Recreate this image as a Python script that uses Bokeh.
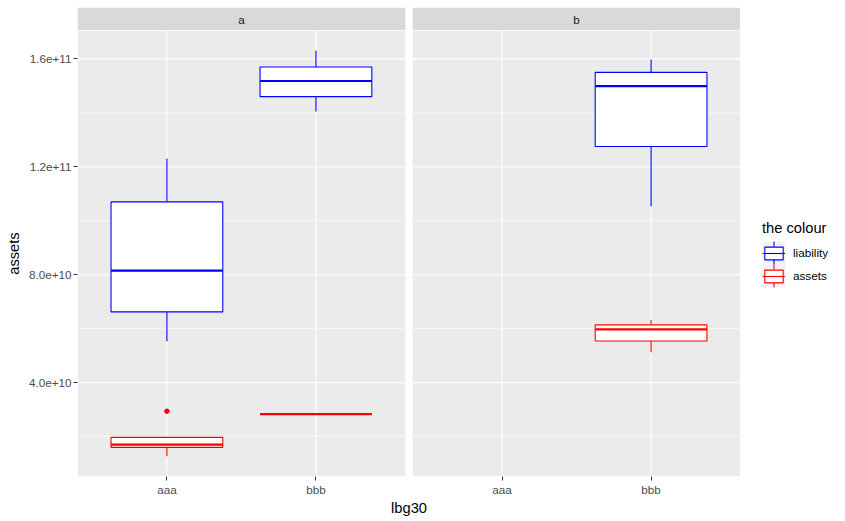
from bokeh.plotting import figure
from bokeh.layouts import column, row
from bokeh.models import (ColumnDataSource, Range1d, FixedTicker, PrintfTickFormatter,
                          Legend, LegendItem)
from bokeh.embed import file_html
from bokeh.resources import INLINE
from bokeh.core.properties import value

# ---- data: boxplot statistics per facet / lbg30 / colour -------------------
panels = ["a", "b"]
lbg30_levels = ["aaa", "bbb"]
colour_levels = ["liability", "assets"]
colour_values = ["blue", "red"]

box_panel = ["a", "a", "a", "a", "b", "b"]
box_lbg30 = ["aaa", "bbb", "aaa", "bbb", "bbb", "bbb"]
box_colour = ["liability", "liability", "assets", "assets", "liability", "assets"]
box_ymin = [5.53e10, 1.405e11, 1.27e10, 2.83e10, 1.054e11, 5.12e10]
box_lower = [6.62e10, 1.460e11, 1.60e10, 2.83e10, 1.275e11, 5.54e10]
box_middle = [8.15e10, 1.518e11, 1.70e10, 2.83e10, 1.499e11, 5.97e10]
box_upper = [1.07e11, 1.570e11, 1.97e10, 2.83e10, 1.550e11, 6.14e10]
box_ymax = [1.23e11, 1.630e11, 1.97e10, 2.83e10, 1.598e11, 6.32e10]

outlier_panel = ["a"]
outlier_lbg30 = ["aaa"]
outlier_colour = ["assets"]
outlier_y = [2.94e10]

y_ticks = [4.0e10, 8.0e10, 1.2e11, 1.6e11]
y_minor = [2.0e10, 6.0e10, 1.0e11, 1.4e11]

# ---- layout constants ------------------------------------------------------
FONT = "Liberation Sans"
PLOT_W = 740
LEGEND_W = 105
LEFT = 77
STRIP_H, MAIN_H = 30, 491
FRAME_W = PLOT_W - LEFT
GAP_PX = 7.3
BOX_W = 0.75
PANEL_BG = "#EBEBEB"
STRIP_BG = "#D9D9D9"
KEY_BG = "#F2F2F2"
KEY = 23            # legend key size (px)
KEY_GLYPH_H = 16    # height of the box glyph area inside a key
LEG_X = 22          # legend left offset inside the legend column
LEG_BOTTOM = 234    # legend bottom offset inside the legend column

# discrete x scale: each facet spans n + 2*0.6 units, facets separated by a gap
n_cat = len(lbg30_levels)
panel_w = (n_cat - 1) + 1.2
gap_units = GAP_PX * len(panels) * panel_w / (FRAME_W - GAP_PX * (len(panels) - 1))
panel_offset = {pn: i * (panel_w + gap_units) for i, pn in enumerate(panels)}
panel_left = [panel_offset[pn] + 0.4 for pn in panels]
panel_right = [panel_offset[pn] + 0.4 + panel_w for pn in panels]
panel_center = [(l + r) / 2 for l, r in zip(panel_left, panel_right)]


def xpos(pn, cat):
    return panel_offset[pn] + lbg30_levels.index(cat) + 1


x_range = Range1d(panel_left[0], panel_right[-1])

# continuous y scale with ggplot's 5% expansion
lo = min(box_ymin + outlier_y)
hi = max(box_ymax + outlier_y)
pad = 0.05 * (hi - lo)
y_range = Range1d(lo - pad, hi + pad)

colour_map = dict(zip(colour_levels, colour_values))
bx = [xpos(pn, c) for pn, c in zip(box_panel, box_lbg30)]
src = ColumnDataSource(dict(
    x=bx,
    left=[v - BOX_W / 2 for v in bx],
    right=[v + BOX_W / 2 for v in bx],
    ymin=box_ymin, lower=box_lower, middle=box_middle, upper=box_upper, ymax=box_ymax,
    colour=box_colour,
    color=[colour_map[c] for c in box_colour],
))
out_src = ColumnDataSource(dict(
    x=[xpos(pn, c) for pn, c in zip(outlier_panel, outlier_lbg30)],
    y=outlier_y,
    color=[colour_map[c] for c in outlier_colour],
))

# ---- main panel figure -----------------------------------------------------
p = figure(width=PLOT_W, height=MAIN_H, x_range=x_range, y_range=y_range,
           output_backend="svg", toolbar_location=None,
           min_border_left=LEFT, min_border_right=0,
           min_border_top=0, min_border_bottom=45)
p.grid.visible = False
p.outline_line_color = None
p.background_fill_color = "white"
p.border_fill_color = "white"

# panel backgrounds
p.quad(left=panel_left, right=panel_right, bottom=y_range.start, top=y_range.end,
       fill_color=PANEL_BG, line_color=None)

# grid lines, drawn per facet
for l, r, pn in zip(panel_left, panel_right, panels):
    p.segment(x0=[l] * len(y_minor), x1=[r] * len(y_minor), y0=y_minor, y1=y_minor,
              line_color="white", line_width=0.6)
    p.segment(x0=[l] * len(y_ticks), x1=[r] * len(y_ticks), y0=y_ticks, y1=y_ticks,
              line_color="white", line_width=1.1)
    xs = [xpos(pn, c) for c in lbg30_levels]
    p.segment(x0=xs, x1=xs, y0=[y_range.start] * len(xs), y1=[y_range.end] * len(xs),
              line_color="white", line_width=1.1)

# boxplots
p.segment(x0="x", x1="x", y0="upper", y1="ymax", line_color="color", line_width=1.1, source=src)
p.segment(x0="x", x1="x", y0="lower", y1="ymin", line_color="color", line_width=1.1, source=src)
p.quad(left="left", right="right", bottom="lower", top="upper",
       fill_color="white", line_color="color", line_width=1.1, source=src)
p.segment(x0="left", x1="right", y0="middle", y1="middle",
          line_color="color", line_width=2.2, source=src)
p.scatter(x="x", y="y", color="color", size=4.5, source=out_src)

# axes
x_ticks = [xpos(pn, c) for pn in panels for c in lbg30_levels]
x_labels = [c for pn in panels for c in lbg30_levels]
p.xaxis.ticker = FixedTicker(ticks=x_ticks, minor_ticks=[])
p.xaxis.major_label_overrides = dict(zip(x_ticks, x_labels))
p.yaxis.ticker = FixedTicker(ticks=y_ticks, minor_ticks=[])
p.yaxis.formatter = PrintfTickFormatter(format="%.1e")
p.xaxis.axis_label = "lbg30"
p.yaxis.axis_label = "assets"
for ax in (p.xaxis, p.yaxis):
    ax.axis_line_color = None
    ax.major_tick_line_color = "#333333"
    ax.major_tick_out = 4
    ax.major_tick_in = 0
    ax.minor_tick_line_color = None
    ax.major_label_text_font = FONT
    ax.major_label_text_font_size = "11.7px"
    ax.major_label_text_color = "#4D4D4D"
    ax.major_label_standoff = 2
    ax.axis_label_text_font = FONT
    ax.axis_label_text_font_size = "14.7px"
    ax.axis_label_text_font_style = "normal"
    ax.axis_label_text_color = "black"
p.yaxis.axis_label_standoff = 4
p.xaxis.axis_label_standoff = 1

# ---- facet strips ----------------------------------------------------------
s = figure(width=PLOT_W, height=STRIP_H, x_range=x_range, y_range=Range1d(0, 1),
           output_backend="svg", toolbar_location=None,
           x_axis_location=None, y_axis_location=None,
           min_border_left=LEFT, min_border_right=0,
           min_border_top=7, min_border_bottom=0)
s.grid.visible = False
s.outline_line_color = None
s.background_fill_color = "white"
s.border_fill_color = "white"
s.quad(left=panel_left, right=panel_right, bottom=0, top=1,
       fill_color=STRIP_BG, line_color=None)
s.text(x=panel_center, y=[0.5] * len(panels), text=panels,
       text_align="center", text_baseline="middle",
       text_font=value(FONT), text_font_size="11.7px", text_color="#1A1A1A")

# ---- colour legend ---------------------------------------------------------
LG_H = STRIP_H + MAIN_H
lg = figure(width=LEGEND_W, height=LG_H, x_range=Range1d(0, LEGEND_W),
            y_range=Range1d(0, LG_H), output_backend="svg", toolbar_location=None,
            x_axis_location=None, y_axis_location=None,
            min_border=0)
lg.grid.visible = False
lg.outline_line_color = None
lg.background_fill_color = "white"
lg.border_fill_color = "white"

# grey key backgrounds and whisker stubs behind the legend glyphs
# (keys are listed top to bottom, so the first level sits highest)
n_keys = len(colour_levels)
key_bottoms = [LEG_BOTTOM + (n_keys - 1 - i) * KEY for i in range(n_keys)]
key_colors = [colour_map[c] for c in colour_levels]
lg.quad(left=[LEG_X] * n_keys, right=[LEG_X + KEY] * n_keys,
        bottom=key_bottoms, top=[b + KEY for b in key_bottoms],
        fill_color=KEY_BG, line_color=None)
stub = (KEY - 0.8 * KEY_GLYPH_H) / 2
key_cx = [LEG_X + KEY / 2] * n_keys
lg.segment(x0=key_cx, x1=key_cx, y0=key_bottoms, y1=[b + stub for b in key_bottoms],
           line_color=key_colors, line_width=1.1)
lg.segment(x0=key_cx, x1=key_cx, y0=[b + KEY - stub for b in key_bottoms],
           y1=[b + KEY for b in key_bottoms], line_color=key_colors, line_width=1.1)

# key glyphs share the box source; its values lie outside this figure's ranges
key_box = lg.quad(left="left", right="right", bottom="lower", top="upper",
                  fill_color="white", line_color="color", line_width=1.1, source=src)
key_med = lg.segment(x0="left", x1="right", y0="middle", y1="middle",
                     line_color="color", line_width=1.1, source=src)
items = [LegendItem(label=lvl, renderers=[key_box, key_med], index=box_colour.index(lvl))
         for lvl in colour_levels]
legend = Legend(items=items, title="the colour", location=(LEG_X, LEG_BOTTOM),
                title_text_font=FONT, title_text_font_size="14.7px",
                title_text_font_style="normal", title_text_color="black",
                title_standoff=5,
                label_text_font=FONT, label_text_font_size="11.7px",
                label_text_color="black", label_standoff=8,
                glyph_width=KEY, glyph_height=KEY_GLYPH_H, label_height=KEY,
                spacing=0, padding=0, margin=0,
                border_line_color=None, background_fill_alpha=0)
lg.add_layout(legend)

layout = row(column(s, p), lg)
open("out.html", "w").write(file_html(layout, INLINE))
